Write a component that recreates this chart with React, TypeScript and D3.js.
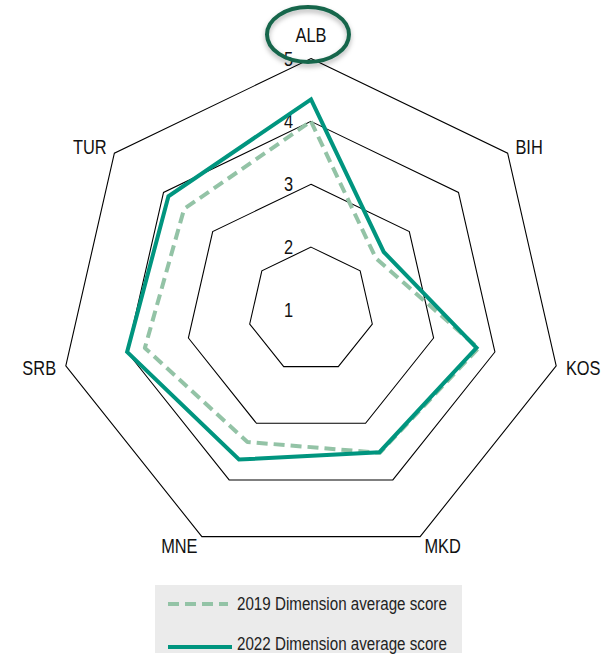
import React from "react";
import * as d3 from "d3";

const categories = ["ALB", "BIH", "KOS", "MKD", "MNE", "SRB", "TUR"];
const values2019 = [4.0, 2.32, 3.73, 3.52, 3.33, 3.71, 3.58];
const values2022 = [4.35, 2.48, 3.7, 3.51, 3.64, 4.0, 3.9];
const ringValues = [2, 3, 4, 5];
const tickLabels = ["1", "2", "3", "4", "5"];
const seriesNames = ["2019 Dimension average score", "2022 Dimension average score"];

const W = 614;
const H = 655;
const cx = 311;
const cy = 310;
const R = 251.5;
const FONT = "'Liberation Sans', Arial, sans-serif";
const C2019 = "#93c3a6";
const C2022 = "#00957f";
const NARROW = 0.82;

function NText(props: {
  x: number;
  y: number;
  anchor?: string;
  size: number;
  fill?: string;
  baseline?: string;
  children: React.ReactNode;
}) {
  const { x, y, anchor = "start", size, fill = "#111", baseline = "central", children } = props;
  return (
    <g transform={`translate(${x},${y}) scale(${NARROW},1)`}>
      <text x={0} y={0} textAnchor={anchor} dominantBaseline={baseline} fontSize={size} fill={fill}>
        {children}
      </text>
    </g>
  );
}

export default function App() {
  const n = categories.length;
  const r = d3.scaleLinear().domain([1, 5]).range([0, R]);
  const angle = (i: number) => (i * 2 * Math.PI) / n;
  const pt = (i: number, v: number): [number, number] => [
    cx + r(v) * Math.sin(angle(i)),
    cy - r(v) * Math.cos(angle(i)),
  ];
  const closed = d3.line<[number, number]>().curve(d3.curveLinearClosed);
  const ringPath = (v: number) => closed(categories.map((_, i) => pt(i, v))) as string;
  const seriesPath = (vals: number[]) => closed(vals.map((v, i) => pt(i, v))) as string;

  return (
    <svg
      width={W}
      height={H}
      style={{ position: "absolute", left: 0, top: 0, background: "#fff" }}
      fontFamily={FONT}
    >
      <defs>
        <filter id="shadow" x="-30%" y="-30%" width="160%" height="170%">
          <feDropShadow dx="0" dy="3" stdDeviation="2.5" floodColor="#000" floodOpacity="0.3" />
        </filter>
      </defs>
      {ringValues.map((v) => (
        <path key={v} d={ringPath(v)} fill="none" stroke="#000" strokeWidth={1.1} />
      ))}
      {tickLabels.map((t) => (
        <NText key={t} x={cx - 18} y={cy - r(+t)} anchor="end" size={20}>
          {t}
        </NText>
      ))}
      <path
        d={seriesPath(values2019)}
        fill="none"
        stroke={C2019}
        strokeWidth={4}
        strokeDasharray="11,6"
        strokeLinejoin="round"
      />
      <path
        d={seriesPath(values2022)}
        fill="none"
        stroke={C2022}
        strokeWidth={4}
        strokeLinejoin="miter"
      />
      {categories.map((c, i) => {
        const a = angle(i);
        const s = Math.sin(a);
        const co = Math.cos(a);
        const anchor = s > 0.1 ? "start" : s < -0.1 ? "end" : "middle";
        const extra = Math.abs(s) < 0.1 ? 14 : 0;
        const x = cx + (R + 10) * s;
        const y = cy - (R + 10 + extra) * co;
        return (
          <NText key={c} x={x} y={y} anchor={anchor} size={20}>
            {c}
          </NText>
        );
      })}
      <ellipse
        cx={308}
        cy={34.5}
        rx={41}
        ry={27.5}
        fill="none"
        stroke="#17664c"
        strokeWidth={4}
        filter="url(#shadow)"
      />
      <rect x={155} y={585} width={307} height={68} fill="#ebebeb" />
      <line x1={168} x2={228} y1={604} y2={604} stroke={C2019} strokeWidth={4} strokeDasharray="11,6" />
      <line x1={168} x2={232} y1={647} y2={647} stroke={C2022} strokeWidth={4} />
      {seriesNames.map((s, i) => (
        <NText key={s} x={237} y={i === 0 ? 604 : 644} size={18.5} fill="#222">
          {s}
        </NText>
      ))}
    </svg>
  );
}
